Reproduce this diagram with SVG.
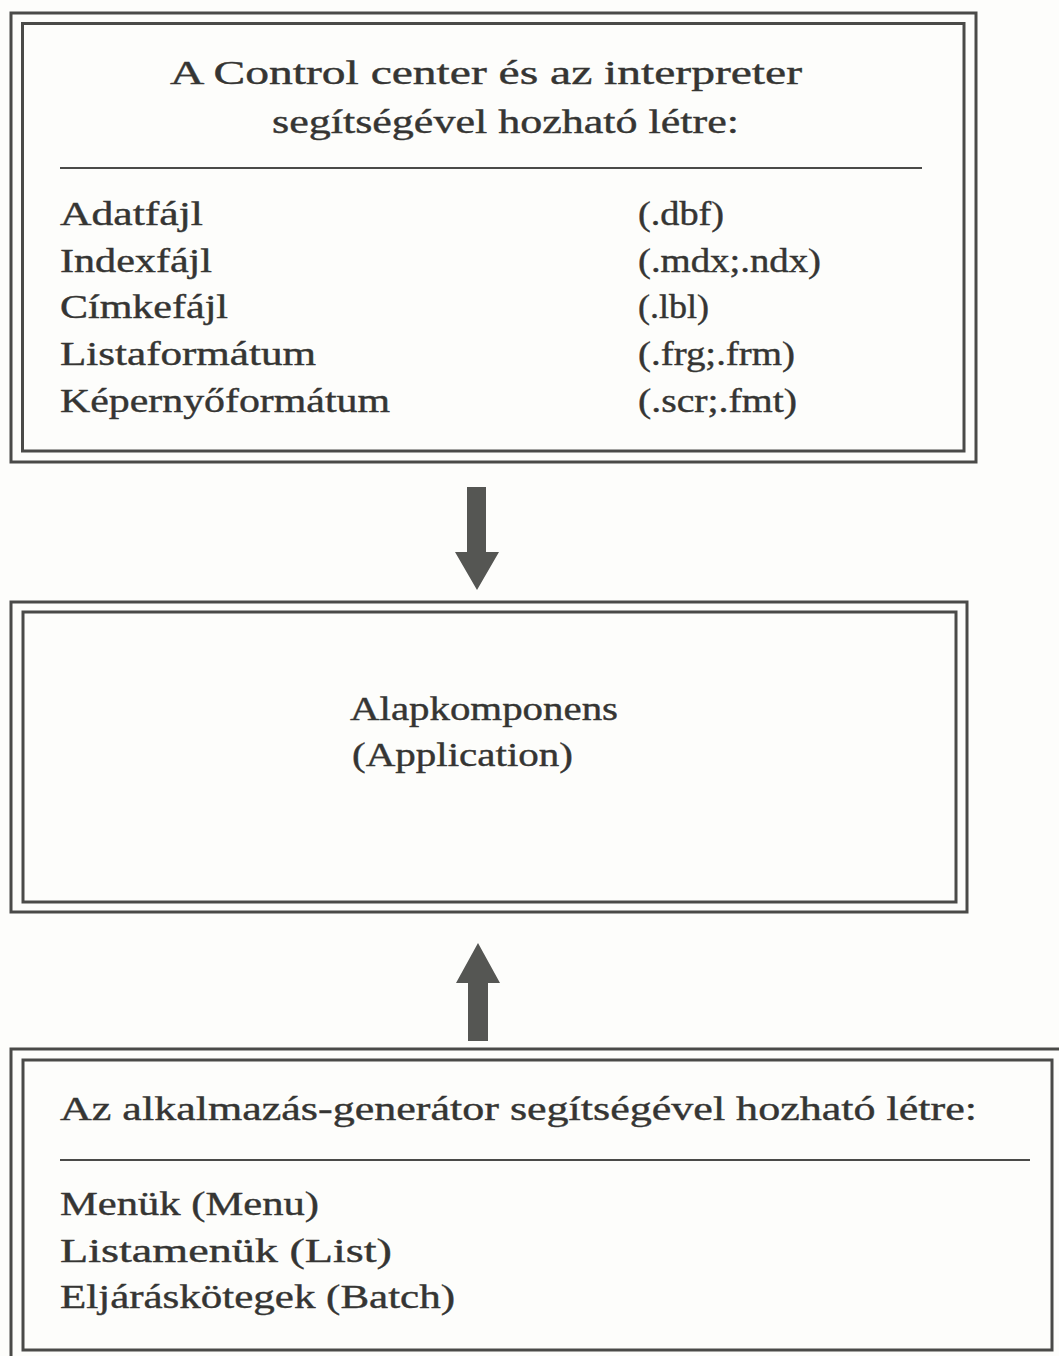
<svg xmlns="http://www.w3.org/2000/svg" width="1059" height="1356" viewBox="0 0 1059 1356">
<style>
.frame{fill:none;stroke:#4a4a48;stroke-width:3}
.rule{stroke:#4a4a48;stroke-width:2}
text{font-family:"Liberation Serif","Times New Roman",serif;font-size:33px;fill:#353533;stroke:#353533;stroke-width:0.4}
.arrow{fill:#555653}
</style>
<rect width="1059" height="1356" fill="#fdfdfb"/>
<g id="box-control-center">
<rect class="frame" x="11" y="13" width="965" height="449"/>
<rect class="frame" x="22.5" y="23.5" width="941.5" height="427.5"/>
<text x="170" y="84" textLength="632" lengthAdjust="spacingAndGlyphs">A Control center és az interpreter</text>
<text x="272" y="133" textLength="467" lengthAdjust="spacingAndGlyphs">segítségével hozható létre:</text>
<line class="rule" x1="60" y1="168" x2="922" y2="168"/>
<text x="60" y="225" textLength="143" lengthAdjust="spacingAndGlyphs">Adatfájl</text>
<text x="60" y="272" textLength="152" lengthAdjust="spacingAndGlyphs">Indexfájl</text>
<text x="60" y="318" textLength="168" lengthAdjust="spacingAndGlyphs">Címkefájl</text>
<text x="60" y="365" textLength="256" lengthAdjust="spacingAndGlyphs">Listaformátum</text>
<text x="60" y="412" textLength="330" lengthAdjust="spacingAndGlyphs">Képernyőformátum</text>
<text x="638" y="225" textLength="86" lengthAdjust="spacingAndGlyphs">(.dbf)</text>
<text x="638" y="272" textLength="183" lengthAdjust="spacingAndGlyphs">(.mdx;.ndx)</text>
<text x="638" y="318" textLength="71" lengthAdjust="spacingAndGlyphs">(.lbl)</text>
<text x="638" y="365" textLength="157" lengthAdjust="spacingAndGlyphs">(.frg;.frm)</text>
<text x="638" y="412" textLength="159" lengthAdjust="spacingAndGlyphs">(.scr;.fmt)</text>
</g>
<g id="box-application">
<rect class="frame" x="11" y="602" width="956" height="310"/>
<rect class="frame" x="23" y="612" width="933" height="290"/>
<text x="350" y="720" textLength="268" lengthAdjust="spacingAndGlyphs">Alapkomponens</text>
<text x="352" y="766" textLength="221" lengthAdjust="spacingAndGlyphs">(Application)</text>
</g>
<g id="box-generator">
<rect class="frame" x="11" y="1049" width="1060" height="320"/>
<rect class="frame" x="23" y="1060" width="1029" height="290"/>
<text x="60" y="1120" textLength="917" lengthAdjust="spacingAndGlyphs">Az alkalmazás-generátor segítségével hozható létre:</text>
<line class="rule" x1="60" y1="1160" x2="1030" y2="1160"/>
<text x="60" y="1215" textLength="259" lengthAdjust="spacingAndGlyphs">Menük (Menu)</text>
<text x="60" y="1262" textLength="332" lengthAdjust="spacingAndGlyphs">Listamenük (List)</text>
<text x="60" y="1308" textLength="395" lengthAdjust="spacingAndGlyphs">Eljáráskötegek (Batch)</text>
</g>
<g id="connectors">
<path class="arrow" d="M467,487 L486,487 L486,552 L499,552 L477,590 L455,552 L467,552 Z"/>
<path class="arrow" d="M478,943 L500,983 L488,983 L488,1041 L468,1041 L468,983 L456,983 Z"/>
</g>
</svg>
